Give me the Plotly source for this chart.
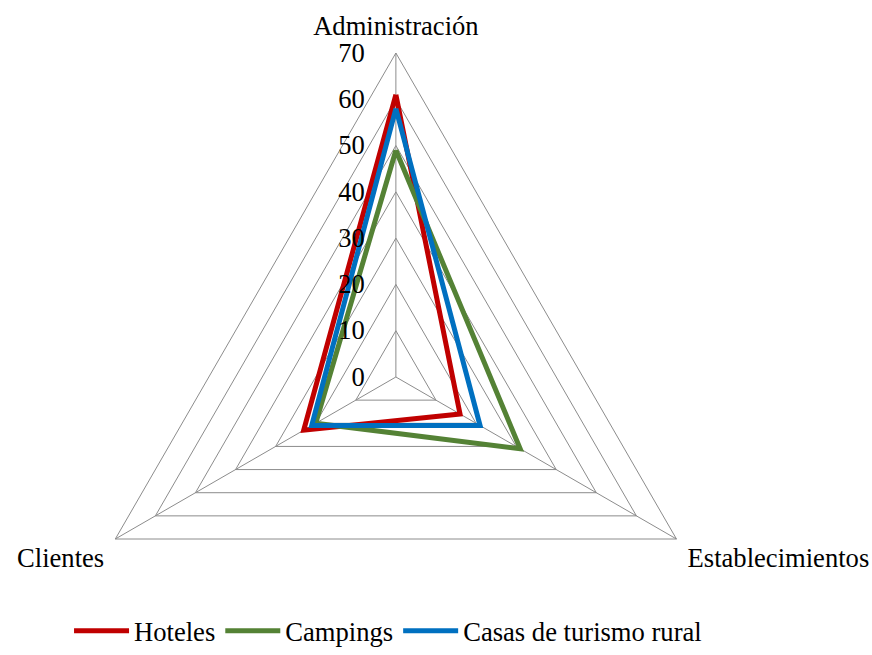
import plotly.graph_objects as go

# Axis categories and shares (%) for each type of accommodation
categories = ["Administración", "Establecimientos", "Clientes"]
hoteles = [61, 16, 23]
campings = [49, 31, 20]
casas_rurales = [58, 21, 21]
series_names = ["Hoteles", "Campings", "Casas de turismo rural"]
radial_ticks = [0, 10, 20, 30, 40, 50, 60, 70]

colors = ["#C00000", "#548235", "#0070C0"]
grid_gray = "#8c8c8c"
font_family = "Liberation Serif, Times New Roman, serif"
font_size = 26.6

closed_theta = categories + categories[:1]

# radial labels sit to the left of the vertical spoke
radial_labels = [str(v) + "\u00a0" * 4 for v in radial_ticks]

fig = go.Figure()

# Triangular grid rings, one per radial tick
for v in radial_ticks[1:]:
    fig.add_trace(go.Scatterpolar(
        r=[v] * len(closed_theta),
        theta=closed_theta,
        mode="lines",
        line=dict(color=grid_gray, width=1),
        hoverinfo="skip",
        showlegend=False,
    ))

for name, vals, col in zip(series_names, [hoteles, campings, casas_rurales], colors):
    fig.add_trace(go.Scatterpolar(
        r=vals + vals[:1],
        theta=closed_theta,
        mode="lines",
        name=name,
        line=dict(color=col, width=5),
        cliponaxis=False,
    ))

fig.update_layout(
    width=872,
    height=655,
    margin=dict(l=0, r=0, t=53, b=116),
    paper_bgcolor="white",
    font=dict(family=font_family, size=font_size, color="black"),
    polar=dict(
        bgcolor="rgba(0,0,0,0)",
        gridshape="linear",
        # the triangle's extent: top vertex at 90°, lower vertices at -30° and 210°
        sector=[-30, 210],
        domain=dict(x=[0.08, 0.828], y=[0, 1]),
        radialaxis=dict(
            range=[0, 70],
            tickvals=radial_ticks,
            ticktext=radial_labels,
            angle=90,
            tickangle=90,
            side="counterclockwise",
            showline=False,
            showgrid=False,
            ticks="",
            tickfont=dict(size=font_size, family=font_family),
        ),
        angularaxis=dict(
            type="category",
            categoryarray=categories,
            rotation=90,
            direction="clockwise",
            showline=False,
            gridcolor=grid_gray,
            gridwidth=1,
            ticks="outside",
            ticklen=7,
            tickcolor="rgba(0,0,0,0)",
            tickfont=dict(size=font_size, family=font_family),
        ),
    ),
    showlegend=True,
    legend=dict(
        orientation="h",
        x=0.445,
        xanchor="center",
        y=-0.14,
        yanchor="top",
        itemwidth=55,
        font=dict(size=font_size, family=font_family),
    ),
)

# let the lower edges of the triangles show outside the drawn sector
unclip = (
    "document.querySelectorAll('.polarlayer [clip-path]')"
    ".forEach(function(el){el.removeAttribute('clip-path');});"
)

fig.write_html("out.html", post_script=unclip)
